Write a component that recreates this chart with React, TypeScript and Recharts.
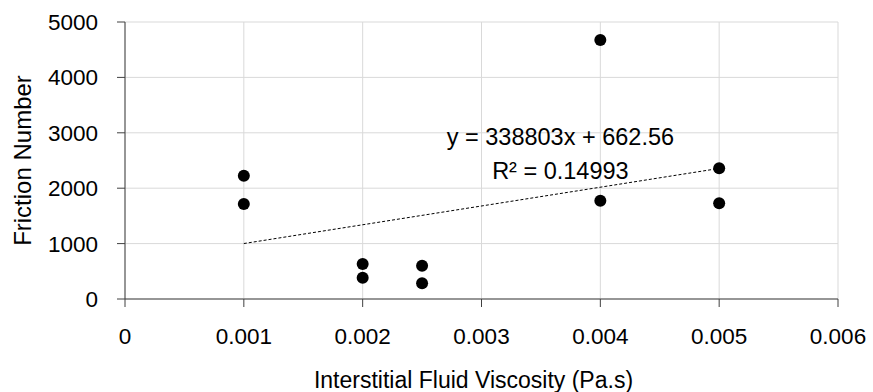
import { ScatterChart, Scatter, XAxis, YAxis, CartesianGrid, ReferenceDot } from 'recharts';

// Measured points (viscosity in Pa.s, friction number)
const viscosity = [0.001, 0.001, 0.002, 0.002, 0.0025, 0.0025, 0.004, 0.004, 0.005, 0.005];
const friction = [2226, 1715, 632, 385, 601, 283, 4675, 1775, 2359, 1727];

// Linear trendline end points, y = 338803x + 662.56
const trendX = [0.001, 0.005];
const trendY = [1001, 2357];

const xTicks = [0, 0.001, 0.002, 0.003, 0.004, 0.005, 0.006];
const yTicks = [0, 1000, 2000, 3000, 4000, 5000];

const equationText = 'y = 338803x + 662.56';
const r2Text = 'R² = 0.14993';

const FONT = '"Liberation Sans", Arial, sans-serif';

const points = viscosity.map((x, i) => ({ x, y: friction[i] }));
const trend = trendX.map((x, i) => ({ x, y: trendY[i] }));

const annotation = (text: string) => (props: any) => {
  const { viewBox } = props;
  return (
    <text
      x={viewBox.x}
      y={viewBox.y}
      textAnchor="middle"
      dominantBaseline="central"
      fontFamily={FONT}
      fontSize={23.5}
      fill="#000"
    >
      {text}
    </text>
  );
};

export default function App() {
  return (
    <div style={{ position: 'absolute', left: 0, top: 0, background: '#fff' }}>
      <ScatterChart width={873} height={392} margin={{ top: 22, right: 35, left: 0, bottom: 0 }}>
        <CartesianGrid stroke="#d9d9d9" strokeWidth={1} />
        <XAxis
          type="number"
          dataKey="x"
          domain={[0, 0.006]}
          ticks={xTicks}
          tickFormatter={(v: number) => String(v)}
          height={93}
          stroke="#404040"
          tickSize={8}
          tickMargin={21}
          tick={{ fill: '#000', fontSize: 22.5, fontFamily: FONT }}
          label={{
            value: 'Interstitial Fluid Viscosity (Pa.s)',
            position: 'insideBottom',
            offset: 4,
            dx: -8,
            fill: '#000',
            fontSize: 23,
            fontFamily: FONT,
          }}
        />
        <YAxis
          type="number"
          dataKey="y"
          domain={[0, 5000]}
          ticks={yTicks}
          width={125}
          stroke="#404040"
          tickSize={8}
          tickMargin={19}
          tick={{ fill: '#000', fontSize: 22.5, fontFamily: FONT }}
          label={{
            value: 'Friction Number',
            angle: -90,
            position: 'insideLeft',
            offset: 22,
            style: { textAnchor: 'middle' },
            fill: '#000',
            fontSize: 24,
            fontFamily: FONT,
          }}
        />
        <Scatter
          data={trend}
          line={{ stroke: '#000', strokeWidth: 1, strokeDasharray: '3 2' }}
          shape={() => null}
          isAnimationActive={false}
        />
        <Scatter data={points} fill="#000" isAnimationActive={false} shape={(p: any) => <circle cx={p.cx} cy={p.cy} r={6} fill="#000" />} />
        <ReferenceDot x={0.003664} y={2930} r={0} stroke="none" label={annotation(equationText)} />
        <ReferenceDot x={0.003664} y={2310} r={0} stroke="none" label={annotation(r2Text)} />
      </ScatterChart>
    </div>
  );
}
